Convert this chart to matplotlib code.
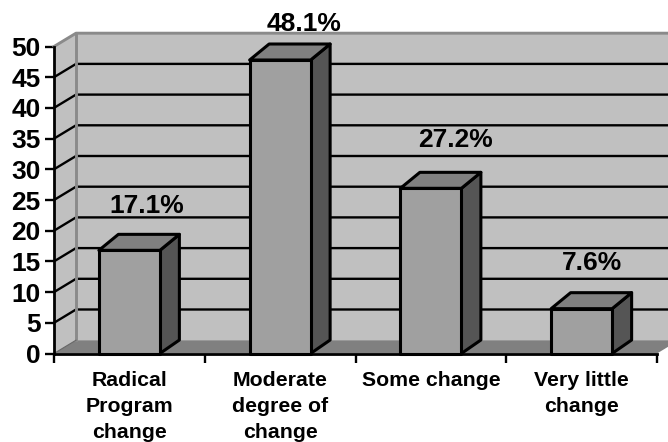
import matplotlib
matplotlib.use('Agg')
import matplotlib.pyplot as plt
from matplotlib.patches import Polygon

categories = ['Radical\nProgram\nchange', 'Moderate\ndegree of\nchange', 'Some change', 'Very little\nchange']
percent_values = [17.1, 48.1, 27.2, 7.6]
percent_labels = ['17.1%', '48.1%', '27.2%', '7.6%']
y_ticks = [0, 5, 10, 15, 20, 25, 30, 35, 40, 45, 50]

WALL = '#c0c0c0'
FLOOR = '#808080'
FRONT = '#a0a0a0'
SIDE = '#555555'
BORDER = '#8a8a8a'
INK = '#000000'

plt.rcParams['font.family'] = ['Liberation Sans', 'DejaVu Sans']
plt.rcParams['font.weight'] = 'bold'

# axes box in pixels of the 668x442 picture
LEFT, RIGHT, TOP, BOTTOM = 54, 657, 46.5, 353.5
W, H = 668, 442

fig = plt.figure(figsize=(W / 100, H / 100), dpi=100)
ax = fig.add_axes([LEFT / W, 1 - BOTTOM / H, (RIGHT - LEFT) / W, (BOTTOM - TOP) / H])
ax.set_xlim(0, 4)
ax.set_ylim(0, 50)

px_x = 4 / (RIGHT - LEFT)
px_y = 50 / (BOTTOM - TOP)

# depth of the back wall and of the boxes
dx, dy = 22 * px_x, 13.3 * px_y
bar_dx, bar_dy = 19.5 * px_x, 13.5 * px_y
bar_top_dy = 16 * px_y
bar_w = 61 * px_x
lw = 1.7
bar_lw = 2.2

# walls and floor
ax.add_patch(Polygon([(dx, dy), (4 + dx, dy), (4 + dx, 50 + dy), (dx, 50 + dy)], fc=WALL, ec='none', clip_on=False, zorder=1))
ax.add_patch(Polygon([(0, 0), (dx, dy), (dx, 50 + dy), (0, 50)], fc=WALL, ec='none', clip_on=False, zorder=1))
ax.add_patch(Polygon([(0, 0), (4, 0), (4 + dx, dy), (dx, dy)], fc=FLOOR, ec='none', clip_on=False, zorder=1))

# gridlines across side wall and back wall
for v in y_ticks[1:-1]:
    ax.plot([0, dx, 4 + dx], [v, v + dy, v + dy], color=INK, lw=lw, clip_on=False, zorder=2, solid_capstyle='butt')

# wall borders
ax.plot([0, dx, 4 + dx], [50, 50 + dy, 50 + dy], color=BORDER, lw=lw + 0.4, clip_on=False, zorder=2)
ax.plot([dx, dx], [dy, 50 + dy], color=BORDER, lw=lw + 0.4, clip_on=False, zorder=2)
ax.plot([0, dx], [0, dy], color='#666666', lw=0.8, clip_on=False, zorder=2)

# 3d boxes
for i, v in enumerate(percent_values):
    x0 = i + 0.5 - bar_w / 2
    x1 = x0 + bar_w
    top = v - 0.3
    ax.add_patch(Polygon([(x1, 0), (x1 + bar_dx, bar_dy), (x1 + bar_dx, top + bar_top_dy), (x1, top)],
                         fc=SIDE, ec=INK, lw=bar_lw, joinstyle='round', clip_on=False, zorder=3))
    ax.add_patch(Polygon([(x0, top), (x1, top), (x1 + bar_dx, top + bar_top_dy), (x0 + bar_dx, top + bar_top_dy)],
                         fc=FLOOR, ec=INK, lw=bar_lw, joinstyle='round', clip_on=False, zorder=3))
    ax.add_patch(Polygon([(x0, 0), (x1, 0), (x1, top), (x0, top)],
                         fc=FRONT, ec=INK, lw=bar_lw, joinstyle='round', clip_on=False, zorder=4))

# value labels sit up and to the right of each box
label_dx = [17, 24, 25, 10]
label_dy = [36, 27, 39, 37]
for i, v in enumerate(percent_values):
    ax.annotate(percent_labels[i], (i + 0.5, v), xytext=(label_dx[i] * 0.72, label_dy[i] * 0.72),
                textcoords='offset points', ha='center', va='baseline', fontsize=19,
                fontweight='bold', color=INK, annotation_clip=False, zorder=6)

# axes
for side in ['top', 'right']:
    ax.spines[side].set_visible(False)
for side in ['left', 'bottom']:
    ax.spines[side].set_linewidth(lw + 0.3)
    ax.spines[side].set_zorder(5)
ax.set_yticks(y_ticks)
ax.tick_params(axis='y', length=6.5, width=lw, pad=3, labelsize=19)
ax.set_xticks(range(5))
ax.set_xticklabels([])
ax.set_xticks([0.5, 1.5, 2.5, 3.5], minor=True)
ax.set_xticklabels(categories, minor=True, fontsize=15.3, fontweight='bold', linespacing=1.46)
ax.tick_params(axis='x', which='major', length=6.5, width=lw)
ax.tick_params(axis='x', which='minor', length=0, pad=12.5)
for label in ax.get_yticklabels():
    label.set_fontweight('bold')

fig.savefig('out.png', dpi=100, facecolor='white')
